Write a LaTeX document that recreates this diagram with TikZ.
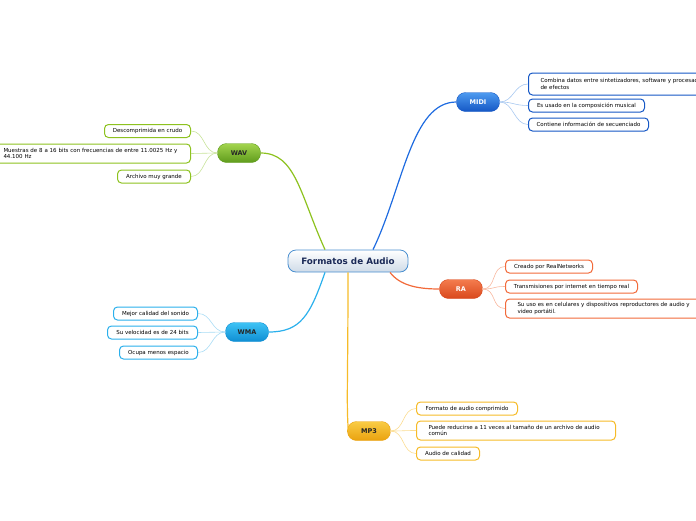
\documentclass[tikz,border=0pt]{standalone}
\usepackage{fontspec}
\setmainfont{DejaVu Sans}
\usetikzlibrary{positioning, calc}

\definecolor{ctrline}{HTML}{4A8FD0}
\definecolor{ctrfill}{HTML}{CFDBE8}
\definecolor{ctrtext}{HTML}{1B2A57}
\definecolor{midiA}{HTML}{4D9BF0}\definecolor{midiB}{HTML}{1557C5}
\definecolor{midiL}{HTML}{1E6BE0}\definecolor{midiT}{HTML}{A8C8F0}
\definecolor{wavA}{HTML}{A3D44E}\definecolor{wavB}{HTML}{5F9C1C}
\definecolor{wavL}{HTML}{8DC21F}\definecolor{wavT}{HTML}{C8E39A}
\definecolor{raA}{HTML}{F47C4E}\definecolor{raB}{HTML}{D9481C}
\definecolor{raL}{HTML}{F26A3A}\definecolor{raT}{HTML}{F8B8A0}
\definecolor{wmaA}{HTML}{3EC3F5}\definecolor{wmaB}{HTML}{0F8ED3}
\definecolor{wmaL}{HTML}{2BB0EC}\definecolor{wmaT}{HTML}{A8DCF5}
\definecolor{mpA}{HTML}{F9CC45}\definecolor{mpB}{HTML}{EAA20F}
\definecolor{mpL}{HTML}{F6BB28}\definecolor{mpT}{HTML}{FBDC90}

\begin{document}
\begin{tikzpicture}[
  x=1pt, y=-1pt,
  central/.style={draw=ctrline, line width=0.8pt, rounded corners=8pt,
    top color=white, bottom color=ctrfill, text=ctrtext,
    minimum width=120pt, minimum height=22pt,
    font=\fontsize{8.8}{10}\selectfont\bfseries},
  topic/.style={rounded corners=9pt, minimum width=43pt, minimum height=19pt,
    inner sep=0pt, font=\fontsize{6.5}{8}\selectfont\bfseries},
  leaf/.style={draw, rounded corners=4pt, line width=1pt, fill=white,
    minimum height=13pt, inner xsep=6pt, inner ysep=2pt, align=left,
    font=\fontsize{5.5}{6.6}\selectfont},
  twoline/.style={leaf, minimum height=19pt, inner xsep=12pt},
  link/.style={line width=1.2pt},
  twig/.style={line width=0.6pt}
]
  \useasboundingbox (0,0) rectangle (696,520);

  %% CENTRAL TOPIC
  \node[central] (audio) at (348,261) {Formatos de Audio};

  %% MAIN TOPICS
  \node[topic, draw=midiB, top color=midiA, bottom color=midiB, text=white] (midi) at (478,102) {MIDI};
  \node[topic, draw=wavB, top color=wavA, bottom color=wavB, text=black!85] (wav) at (239,153) {WAV};
  \node[topic, draw=raB, top color=raA, bottom color=raB, text=white] (ra) at (461,289) {RA};
  \node[topic, draw=wmaB, top color=wmaA, bottom color=wmaB, text=black!85] (wma) at (247,332) {WMA};
  \node[topic, draw=mpB, top color=mpA, bottom color=mpB, text=black!85] (mp3) at (369,431) {MP3};

  %% MIDI leaves
  \node[twoline, draw=midiB, anchor=west, text width=180pt, minimum height=22pt] (midi1) at (528,84)
    {Combina datos entre sintetizadores, software y procesadores\\de efectos};
  \node[leaf, draw=midiB, anchor=west, minimum width=116pt] (midi2) at (528,105.5)
    {Es usado en la composición musical};
  \node[leaf, draw=midiB, anchor=west, minimum width=120pt] (midi3) at (528,124.5)
    {Contiene información de secuenciado};

  %% WAV leaves
  \node[leaf, draw=wavL, anchor=east, minimum width=86pt] (wav1) at (191,131)
    {Descomprimida en crudo};
  \node[twoline, draw=wavL, anchor=east, text width=178pt, inner xsep=9pt] (wav2) at (191,153.5)
    {Muestras de 8 a 16 bits con frecuencias de entre 11.0025 Hz y\\44.100 Hz};
  \node[leaf, draw=wavL, anchor=east, minimum width=73pt] (wav3) at (191,176.5)
    {Archivo muy grande};

  %% RA leaves
  \node[leaf, draw=raL, anchor=west, minimum width=87pt] (ra1) at (505,266.5)
    {Creado por RealNetworks};
  \node[leaf, draw=raL, anchor=west, minimum width=132pt] (ra2) at (505,286.5)
    {Transmisiones por internet en tiempo real};
  \node[twoline, draw=raL, anchor=west, text width=180pt] (ra3) at (505,308.5)
    {Su uso es en celulares y dispositivos reproductores de audio y\\video portátil.};

  %% WMA leaves
  \node[leaf, draw=wmaL, anchor=east, minimum width=84pt] (wma1) at (198,313.5)
    {Mejor calidad del sonido};
  \node[leaf, draw=wmaL, anchor=east, minimum width=90pt] (wma2) at (198,332.5)
    {Su velocidad es de 24 bits};
  \node[leaf, draw=wmaL, anchor=east, minimum width=78pt] (wma3) at (198,352.5)
    {Ocupa menos espacio};

  %% MP3 leaves
  \node[leaf, draw=mpL, anchor=west, minimum width=101pt] (mp31) at (416,408.5)
    {Formato de audio comprimido};
  \node[twoline, draw=mpL, anchor=west, text width=175pt] (mp32) at (416,430.5)
    {Puede reducirse a 11 veces al tamaño de un archivo de audio\\común};
  \node[leaf, draw=mpL, anchor=west, minimum width=63pt] (mp33) at (416,453.5)
    {Audio de calidad};

  %%======== CENTRAL -> MAIN TOPICS ========
  \draw[link, midiL] ($(audio.north)+(25,0)$) .. controls +(30,-62) and +(-45,0) .. (midi.west);
  \draw[link, wavL] ($(audio.north)+(-23,0)$) .. controls +(-25,-55) and +(35,0) .. (wav.east);
  \draw[link, raL] ($(audio.south)+(42,0)$) .. controls +(10,13) and +(-22,0) .. (ra.west);
  \draw[link, wmaL] ($(audio.south)+(-23,0)$) .. controls +(-15,43) and +(32,0) .. (wma.east);
  \draw[link, mpL] (audio.south) .. controls +(0,110) and +(-2,-30) .. ($(mp3.west)+(1,0)$);

  %%======== MAIN TOPICS -> LEAVES ========
  \foreach \leaf in {midi1, midi2, midi3}
    \draw[twig, midiT] (midi.east) .. controls +(14,0) and +(-14,0) .. (\leaf.west);
  \foreach \leaf in {wav1, wav2, wav3}
    \draw[twig, wavT] (wav.west) .. controls +(-14,0) and +(14,0) .. (\leaf.east);
  \foreach \leaf in {ra1, ra2, ra3}
    \draw[twig, raT] (ra.east) .. controls +(14,0) and +(-14,0) .. (\leaf.west);
  \foreach \leaf in {wma1, wma2, wma3}
    \draw[twig, wmaT] (wma.west) .. controls +(-14,0) and +(14,0) .. (\leaf.east);
  \foreach \leaf in {mp31, mp32, mp33}
    \draw[twig, mpT] (mp3.east) .. controls +(14,0) and +(-14,0) .. (\leaf.west);

\end{tikzpicture}
\end{document}
